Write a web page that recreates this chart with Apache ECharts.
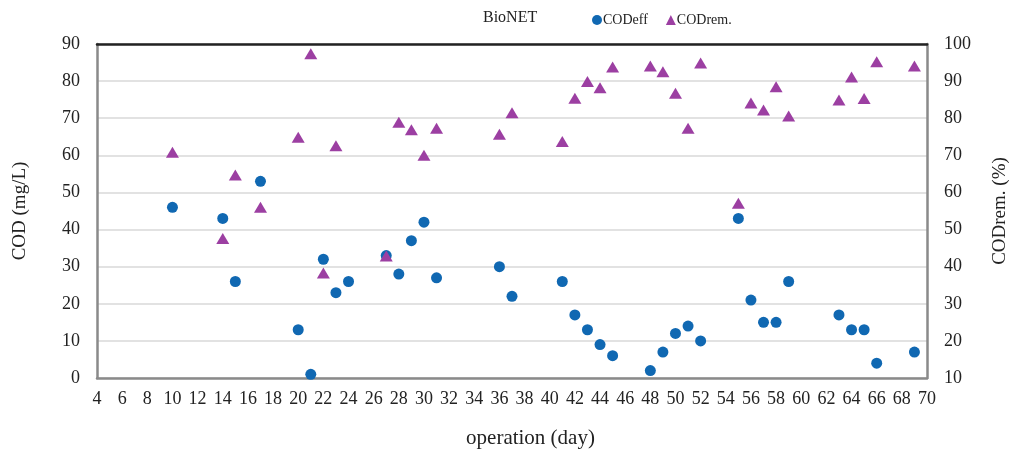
<!DOCTYPE html>
<html><head><meta charset="utf-8">
<script src="https://cdn.jsdelivr.net/npm/echarts@6/dist/echarts.min.js"></script>
<style>html,body{margin:0;padding:0;background:#fff}#c{width:1018px;height:456px}</style>
</head><body><div id="c"></div>
<script>
const effDays = [10,14,15,17,20,21,22,23,24,27,28,29,30,31,36,37,41,42,43,44,45,48,49,50,51,52,55,56,57,58,59,63,64,65,66,69];
const effVals = [46,43,26,53,13,1,32,23,26,33,28,37,42,27,30,22,26,17,13,9,6,2,7,12,14,10,43,21,15,15,26,17,13,13,4,7];
const remDays = [10,14,15,17,20,21,22,23,27,28,29,30,31,36,37,41,42,43,44,45,48,49,50,51,52,55,56,57,58,59,63,64,65,66,69];
const remVals = [70.8,47.6,64.7,56,74.9,97.4,38.3,72.6,42.9,78.9,76.9,70,77.3,75.7,81.5,73.7,85.4,89.9,88.2,93.8,94.1,92.5,86.7,77.3,94.9,57.1,84.1,82.2,88.5,80.6,84.9,91.1,85.3,95.2,94.1];
const titleText = 'BioNET';
const xName = 'operation (day)';
const yLeftName = 'COD (mg/L)';
const yRightName = 'CODrem. (%)';

const FONT = '"Liberation Serif","DejaVu Serif",serif';
const blue = '#1068b2';
const purple = '#9c3fa2';
const chart = echarts.init(document.getElementById('c'));
chart.setOption({
  animation: false,
  textStyle: {fontFamily: FONT},
  title: {text: titleText, left: 478, top: 5, textStyle: {fontFamily: FONT, fontSize: 16, fontWeight: 'normal', color: '#222'}},
  legend: {
    left: 587, top: 8, itemWidth: 10, itemHeight: 10, itemGap: 18,
    textStyle: {fontFamily: FONT, fontSize: 14, color: '#222', padding: [0,0,0,-4]},
    data: [{name: 'CODeff', icon: 'circle'}, {name: 'CODrem.', icon: 'triangle'}]
  },
  grid: {left: 97, right: 90, top: 44, bottom: 78},
  xAxis: [{
    type: 'value', min: 4, max: 70, interval: 2,
    name: xName, nameLocation: 'middle', nameGap: 50,
    nameTextStyle: {fontFamily: FONT, fontSize: 21, color: '#222', padding: [0,0,0,37]},
    axisLine: {lineStyle: {color: '#8a8a8a', width: 2.5}},
    axisTick: {show: false},
    axisLabel: {fontFamily: FONT, fontSize: 18, color: '#222', margin: 12},
    splitLine: {show: false}
  }, {
    type: 'value', min: 4, max: 70, position: 'top',
    axisLine: {show: true, lineStyle: {color: '#222', width: 2.5}},
    axisTick: {show: false}, axisLabel: {show: false}, splitLine: {show: false}
  }],
  yAxis: [{
    type: 'value', min: 0, max: 90, interval: 10, position: 'left',
    name: yLeftName, nameLocation: 'middle', nameGap: 67,
    nameTextStyle: {fontFamily: FONT, fontSize: 19, color: '#222'},
    axisLine: {show: true, lineStyle: {color: '#8a8a8a', width: 2.5}},
    axisTick: {show: false},
    axisLabel: {fontFamily: FONT, fontSize: 18, color: '#222', margin: 17},
    splitLine: {lineStyle: {color: '#d9d9d9', width: 1.5}}
  }, {
    type: 'value', min: 10, max: 100, interval: 10, position: 'right',
    name: yRightName, nameLocation: 'middle', nameGap: 64, nameRotate: 90,
    nameTextStyle: {fontFamily: FONT, fontSize: 19, color: '#222'},
    axisLine: {show: true, lineStyle: {color: '#8a8a8a', width: 2.5}},
    axisTick: {show: false},
    axisLabel: {fontFamily: FONT, fontSize: 18, color: '#222', margin: 17},
    splitLine: {show: false}
  }],
  series: [{
    name: 'CODeff', type: 'scatter', yAxisIndex: 0, symbol: 'circle', symbolSize: 11,
    itemStyle: {color: blue, opacity: 1},
    data: effDays.map((d, i) => [d, effVals[i]])
  }, {
    name: 'CODrem.', type: 'scatter', yAxisIndex: 1, symbol: 'triangle', symbolSize: [13, 11],
    itemStyle: {color: purple, opacity: 1},
    data: remDays.map((d, i) => [d, remVals[i]])
  }]
});
</script></body></html>
